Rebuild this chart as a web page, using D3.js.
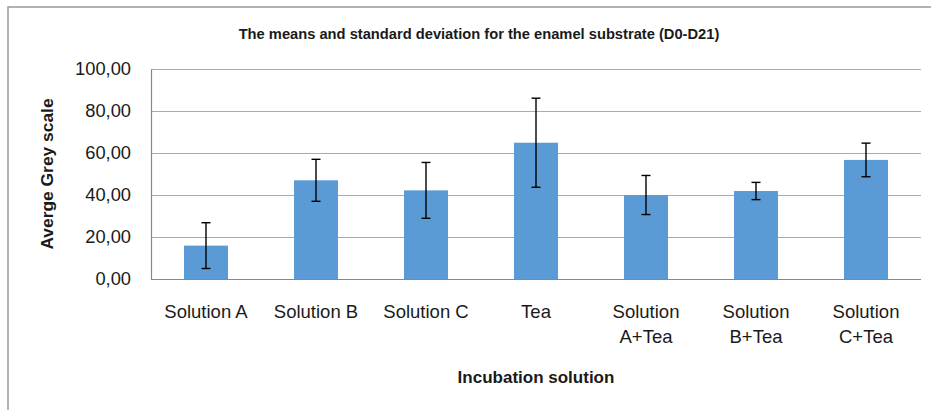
<!DOCTYPE html>
<html>
<head>
    <meta charset="UTF-8">
    <title>Enamel substrate means and SD</title>
    <script src="https://d3js.org/d3.v7.min.js"></script>
    <style>
        body {
            margin: 0;
            padding: 0;
            background: #fff;
        }
        text {
            font-family: "Liberation Sans", Arial, sans-serif;
            fill: #1a1a1a;
        }
    </style>
</head>
<body>
    <svg id="chart" width="931" height="410"></svg>

    <script>
        // values
        const categories = ["Solution A", "Solution B", "Solution C", "Tea", "Solution A+Tea", "Solution B+Tea", "Solution C+Tea"];
        const labelLines = [["Solution A"], ["Solution B"], ["Solution C"], ["Tea"], ["Solution", "A+Tea"], ["Solution", "B+Tea"], ["Solution", "C+Tea"]];
        const means = [15.9, 47.0, 42.2, 64.9, 40.0, 41.9, 56.7];
        const sds = [10.9, 10.0, 13.3, 21.2, 9.3, 4.1, 8.0];
        const yTicks = [0, 20, 40, 60, 80, 100];

        const svgWidth = 931, svgHeight = 410;
        const margin = { top: 69, right: 10, bottom: 131, left: 151 };
        const width = 921 - margin.left;
        const height = 279 - margin.top;

        const svg = d3.select("#chart");

        // outer chart frame
        svg.append("rect")
            .attr("x", 8)
            .attr("y", 7)
            .attr("width", svgWidth)
            .attr("height", svgHeight)
            .attr("fill", "none")
            .attr("stroke", "#999")
            .attr("stroke-width", 1.5);

        const g = svg.append("g")
            .attr("transform", `translate(${margin.left},${margin.top})`);

        const x = d3.scaleBand()
            .domain(categories)
            .range([0, width])
            .paddingInner(0.6)
            .paddingOuter(0.3);

        const y = d3.scaleLinear()
            .domain([0, 100])
            .range([height, 0]);

        const fmt = v => d3.format(".2f")(v).replace(".", ",");

        // gridlines
        g.append("g")
            .selectAll("line")
            .data(yTicks)
            .enter()
            .append("line")
            .attr("x1", 0)
            .attr("x2", width)
            .attr("y1", d => y(d) + 0.5)
            .attr("y2", d => y(d) + 0.5)
            .attr("stroke", d => d === 0 ? "#888" : "#aaa")
            .attr("stroke-width", 1.2);

        // left axis
        const yAxis = g.append("g")
            .call(d3.axisLeft(y).tickValues(yTicks).tickFormat(fmt).tickSize(0).tickPadding(20));
        yAxis.select(".domain").attr("stroke", "#888").attr("stroke-width", 1.2);
        yAxis.selectAll("text")
            .style("font-family", "'Liberation Sans', Arial, sans-serif")
            .style("font-size", "18.3px")
            .attr("fill", "#1a1a1a");

        // bars
        g.selectAll(".bar")
            .data(means)
            .enter()
            .append("rect")
            .attr("class", "bar")
            .attr("x", (d, i) => x(categories[i]))
            .attr("y", d => y(d))
            .attr("width", x.bandwidth())
            .attr("height", d => height - y(d))
            .attr("fill", "#5b9bd5");

        // error bars
        const capHalf = 4.5;
        const err = g.append("g")
            .selectAll("g")
            .data(means)
            .enter()
            .append("g")
            .attr("stroke", "#000")
            .attr("stroke-width", 1.4);
        err.append("line")
            .attr("x1", (d, i) => x(categories[i]) + x.bandwidth() / 2)
            .attr("x2", (d, i) => x(categories[i]) + x.bandwidth() / 2)
            .attr("y1", (d, i) => y(d + sds[i]))
            .attr("y2", (d, i) => y(d - sds[i]));
        err.append("line")
            .attr("x1", (d, i) => x(categories[i]) + x.bandwidth() / 2 - capHalf)
            .attr("x2", (d, i) => x(categories[i]) + x.bandwidth() / 2 + capHalf)
            .attr("y1", (d, i) => y(d + sds[i]))
            .attr("y2", (d, i) => y(d + sds[i]));
        err.append("line")
            .attr("x1", (d, i) => x(categories[i]) + x.bandwidth() / 2 - capHalf)
            .attr("x2", (d, i) => x(categories[i]) + x.bandwidth() / 2 + capHalf)
            .attr("y1", (d, i) => y(d - sds[i]))
            .attr("y2", (d, i) => y(d - sds[i]));

        // category labels
        const labels = g.append("g")
            .selectAll("text")
            .data(labelLines)
            .enter()
            .append("text")
            .attr("text-anchor", "middle")
            .attr("font-size", "18.5px")
            .attr("transform", (d, i) => `translate(${x(categories[i]) + x.bandwidth() / 2},${height + 39})`);
        labels.selectAll("tspan")
            .data(d => d)
            .enter()
            .append("tspan")
            .attr("x", 0)
            .attr("dy", (d, j) => j === 0 ? 0 : 25)
            .text(d => d);

        // titles
        svg.append("text")
            .attr("x", 479)
            .attr("y", 39)
            .attr("text-anchor", "middle")
            .attr("font-size", "14.7px")
            .attr("font-weight", "bold")
            .text("The means and standard deviation for the enamel substrate (D0-D21)");

        svg.append("text")
            .attr("transform", "rotate(-90)")
            .attr("x", -(margin.top + height / 2))
            .attr("y", 53)
            .attr("text-anchor", "middle")
            .attr("font-size", "17.4px")
            .attr("font-weight", "bold")
            .text("Averge Grey scale");

        svg.append("text")
            .attr("x", margin.left + width / 2)
            .attr("y", 383)
            .attr("text-anchor", "middle")
            .attr("font-size", "17px")
            .attr("font-weight", "bold")
            .text("Incubation solution");
    </script>
</body>
</html>
